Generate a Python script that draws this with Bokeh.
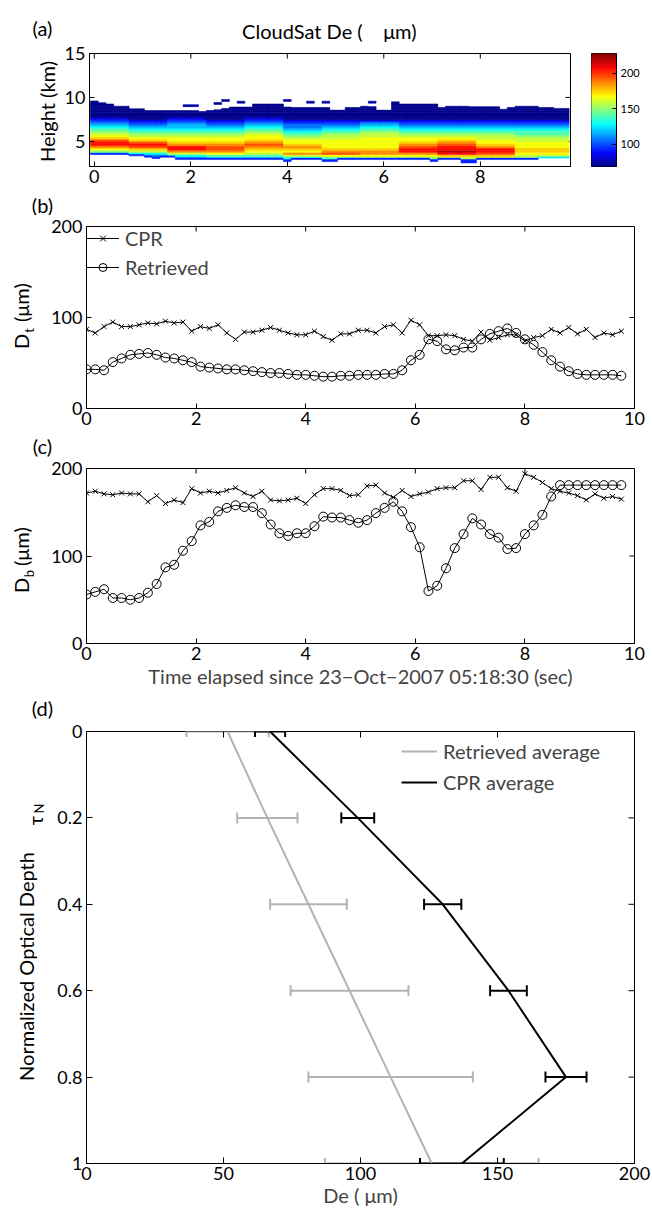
import math
from bokeh.plotting import figure
from bokeh.layouts import column, row
from bokeh.models import (ColumnDataSource, Range1d, FixedTicker, Label,
                          Legend, LegendItem, Whisker, TeeHead,
                          LinearColorMapper)
from bokeh.transform import transform
from bokeh.embed import file_html
from bokeh.resources import INLINE

FONT = "Lato"
TICK_FS = "18px"
TEXT_FS = "20px"

# ---------------------------------------------------------------- data
time_s = [0.0, 0.16, 0.32, 0.48, 0.64, 0.8, 0.96, 1.12, 1.28, 1.44,
          1.6, 1.76, 1.92, 2.08, 2.24, 2.4, 2.56, 2.72, 2.88, 3.04,
          3.2, 3.36, 3.52, 3.68, 3.84, 4.0, 4.16, 4.32, 4.48, 4.64,
          4.8, 4.96, 5.12, 5.28, 5.44, 5.6, 5.76, 5.92, 6.08, 6.24,
          6.4, 6.56, 6.72, 6.88, 7.04, 7.2, 7.36, 7.52, 7.68, 7.84,
          8.0, 8.16, 8.32, 8.48, 8.64, 8.8, 8.96, 9.12, 9.28, 9.44,
          9.6, 9.76]

# (b) cloud-top effective diameter
cpr_top_de = [87, 83, 90, 95, 90, 90, 92, 94, 93, 96,
              94, 95, 85, 90, 88, 92, 83, 76, 84, 84,
              86, 89, 86, 83, 81, 81, 85, 79, 75, 82,
              82, 86, 86, 83, 90, 92, 83, 97, 92, 80,
              80, 81, 80, 76, 74, 84, 75, 78, 81, 81,
              74, 78, 80, 87, 83, 89, 82, 87, 78, 83,
              81, 85]
ret_top_de = [43, 43, 42, 51, 55, 59, 60, 61, 59, 56,
              55, 53, 51, 46, 45, 44, 43, 43, 42, 41,
              40, 39, 39, 38, 37, 37, 36, 35, 35, 36,
              36, 37, 37, 37, 38, 38, 42, 53, 59, 76,
              74, 65, 64, 67, 67, 76, 82, 85, 88, 83,
              76, 70, 62, 53, 46, 41, 38, 37, 37, 37,
              37, 36]

# (c) cloud-base effective diameter
cpr_base_de = [172, 174, 171, 170, 172, 171, 171, 162, 169, 160,
               164, 161, 177, 172, 174, 172, 175, 178, 172, 168,
               174, 164, 163, 164, 166, 160, 170, 177, 177, 175,
               169, 170, 180, 181, 172, 167, 175, 168, 171, 173,
               177, 178, 178, 186, 186, 176, 190, 190, 178, 174,
               194, 190, 184, 177, 174, 172, 169, 164, 171, 166,
               168, 165]
ret_base_de = [56, 59, 62, 52, 52, 50, 52, 58, 68, 87,
               90, 106, 117, 135, 139, 151, 155, 158, 156, 156,
               149, 136, 126, 123, 126, 126, 134, 145, 144, 144,
               141, 138, 141, 149, 155, 162, 151, 133, 110, 60,
               66, 86, 109, 125, 143, 136, 125, 121, 108, 109,
               125, 135, 147, 168, 181, 181, 181, 181, 181, 181,
               181, 181]

# (d) profiles vs normalized optical depth
tau_n = [0.0, 0.2, 0.4, 0.6, 0.8, 1.0]
ret_avg = [51.5, 66, 81, 96, 111, 126]
ret_sd = [15, 11, 14, 21.5, 30, 39]
cpr_avg = [67, 99, 130, 154, 175, 137]
cpr_sd = [5.5, 6, 6.8, 6.7, 7.5, 15.3]

# (a) CloudSat De curtain
cloud_top_km = [9.6, 9.4, 9.25, 9.0, 9.0, 8.7, 8.7, 8.5, 8.5, 8.5,
                8.5, 8.5, 8.5, 8.5, 8.4, 8.5, 8.6, 8.75, 8.9, 8.9,
                8.9, 9.25, 9.25, 9.25, 9.25, 8.9, 8.85, 8.85, 8.85, 8.85,
                8.85, 8.55, 8.55, 8.85, 8.85, 9.0, 8.95, 8.55, 8.55, 9.5,
                9.25, 9.25, 9.25, 9.25, 9.25, 8.85, 9.0, 9.0, 9.0, 8.95,
                8.95, 8.95, 8.95, 8.65, 8.85, 9.0, 9.0, 9.0, 8.85, 8.85,
                8.75, 8.75]
cloud_base_km = [3.5, 3.5, 3.5, 3.5, 3.5, 3.35, 3.35, 3.2, 3.05, 3.2,
                 3.2, 2.95, 2.95, 2.95, 2.95, 2.95, 2.95, 2.95, 2.95, 2.95,
                 2.95, 2.95, 2.95, 2.95, 2.95, 2.7, 2.95, 2.95, 2.95, 2.95,
                 2.7, 2.7, 2.95, 2.95, 2.95, 2.95, 2.95, 2.95, 2.95, 2.95,
                 2.95, 2.95, 2.95, 2.95, 2.7, 2.95, 2.95, 2.95, 2.55, 2.55,
                 2.95, 2.95, 2.95, 2.95, 2.95, 2.95, 2.95, 2.95, 3.1, 3.1,
                 3.1, 3.1]
base_line_de = [95] * 58 + [125] * 4
# De level codes used in the profile strings
level_codes = "ABCDEFGHIJKLMNO"
level_de = [71, 84, 96, 108, 119, 130, 140, 150, 159, 167, 176, 186, 196, 206, 219]
# profile groups: first profile index of each group, one string per group,
# one character per 0.25 km layer starting at 2.5 km
group_start = [0, 5, 10, 15, 20, 25, 30, 35, 40, 45, 50, 55]
group_profile = [
    ".CDDEHJLNNMKJIHGFEDCB" + "A" * 9,
    ".CDDFIKMNMKJIHGFEDCB" + "A" * 10,
    ".CDFILNNLKJJIHGFEEDCB" + "A" * 9,
    ".CEGJLMMLKJJIHGFEDCB" + "A" * 10,
    ".CEGIJKLMLKJJIHGFEDCB" + "A" * 9,
    ".CFILJKLKJJIHGFEDDCB" + "A" * 10,
    ".CGJMLKJJJJIIHGFEDCB" + "A" * 10,
    ".CHJLLKJJJJJIIHGFEDB" + "A" * 10,
    ".CHJLNNMLKJJIHGFEDCB" + "A" * 10,
    ".CIKNONNMLKJIHGFEDCB" + "A" * 10,
    ".CIKMNNLKJJIIHGFEDCB" + "A" * 10,
    ".CHIJKKJJJIIHGGFEDCB" + "A" * 10,
]
stray_col = [12, 13, 16, 17, 19, 25, 28, 30, 36]
stray_km = [8.95, 8.95, 9.2, 9.55, 9.35, 9.55, 9.35, 9.35, 9.35]
stray_de = [74, 74, 74, 74, 74, 74, 74, 74, 74]

clim = (69, 228)


# ---------------------------------------------------------------- helpers
def jet_hex(t):
    def c(v):
        return int(round(255 * min(max(v, 0.0), 1.0)))
    return "#%02x%02x%02x" % (c(1.5 - abs(4 * t - 3)),
                              c(1.5 - abs(4 * t - 2)),
                              c(1.5 - abs(4 * t - 1)))


jet = [jet_hex(k / 255.0) for k in range(256)]
mapper = LinearColorMapper(palette=jet, low=clim[0], high=clim[1])


def base_fig(width, height, xr, yr, left, right, top, bottom, yloc="left"):
    p = figure(width=width, height=height,
               x_range=Range1d(*xr), y_range=Range1d(*yr),
               output_backend="svg", toolbar_location=None,
               min_border_left=left, min_border_right=right,
               min_border_top=top, min_border_bottom=bottom,
               y_axis_location=yloc)
    p.grid.visible = False
    p.outline_line_color = "black"
    p.outline_line_width = 1
    p.background_fill_color = "white"
    p.border_fill_color = "white"
    return p


def style_axis(ax, ticks, tick_len=5, size=TICK_FS, overrides=None, standoff=4):
    ax.ticker = FixedTicker(ticks=ticks)
    ax.major_tick_in = tick_len
    ax.major_tick_out = 0
    ax.minor_tick_line_color = None
    ax.axis_line_color = "black"
    ax.major_tick_line_color = "black"
    ax.major_label_text_font = FONT
    ax.major_label_text_color = "black"
    ax.major_label_text_font_size = size
    ax.major_label_standoff = standoff
    if overrides:
        ax.major_label_overrides = overrides


def mirror_ticks(p, xr, yr, fw, fh, xticks, yticks, L, yside="right"):
    """inward tick marks on the opposite frame edges"""
    dx = L / fw * (xr[1] - xr[0])
    dy = L / fh * (yr[1] - yr[0])
    if xticks:
        p.segment(x0=xticks, y0=[yr[1]] * len(xticks), x1=xticks,
                  y1=[yr[1] - dy] * len(xticks), line_color="black",
                  line_width=1)
    if yticks:
        if yside == "right":
            xe, xi = xr[1], xr[1] - dx
        else:
            xe, xi = xr[0], xr[0] + dx
        p.segment(x0=[xe] * len(yticks), y0=yticks, x1=[xi] * len(yticks),
                  y1=yticks, line_color="black", line_width=1)


def strip(width, height, page_top, page_bottom, top=0, bottom=0):
    """text-only figure; its frame maps page pixels (page_top..page_bottom)"""
    s = figure(width=width, height=height, x_range=Range1d(0, width),
               y_range=Range1d(page_bottom, page_top), output_backend="svg",
               toolbar_location=None, x_axis_type=None, y_axis_type=None,
               min_border=0, min_border_left=0, min_border_right=0,
               min_border_top=top, min_border_bottom=bottom)
    s.grid.visible = False
    s.outline_line_color = None
    s.background_fill_color = "white"
    s.border_fill_color = "white"
    return s


def txt(s, x, y, text, size=TEXT_FS, angle=0.0):
    s.add_layout(Label(x=x, y=y, text=text, text_font=FONT,
                       text_font_size=size, angle=angle, text_align="center",
                       text_baseline="middle", text_color="black"))


ROT = math.pi / 2
NBSP = "\u00a0"

# ---------------------------------------------------------------- title strip
ta = strip(652, 42, 0, 42)
txt(ta, 42, 27, "(a)")
txt(ta, 329, 30, "CloudSat De (" + NBSP * 4 + "\u03bcm)")

# ---------------------------------------------------------------- (a)
A_XR, A_YR = (-0.1, 9.87), (2.14, 15)
pa = base_fig(522, 150, A_XR, A_YR, 29, 12, 11, 26)
style_axis(pa.xaxis[0], [0, 2, 4, 6, 8], standoff=3)
style_axis(pa.yaxis[0], [5, 10, 15])
mirror_ticks(pa, A_XR, A_YR, 481, 113, [0, 2, 4, 6, 8], [5, 10, 15], 5)

cells = dict(l=[], r=[], b=[], t=[], de=[])
HALF, ROW0, DZ, EDGE = 0.08, 2.5, 0.25, 0.22


def add_cell(x, b, t, de):
    cells["l"].append(x - HALF)
    cells["r"].append(x + HALF)
    cells["b"].append(b)
    cells["t"].append(t)
    cells["de"].append(de)


for i, x in enumerate(time_s):
    g = max(k for k, s0 in enumerate(group_start) if s0 <= i)
    prof = group_profile[g]
    lo, hi = cloud_base_km[i], cloud_top_km[i]
    add_cell(x, lo, lo + EDGE, base_line_de[i])
    start = lo + EDGE
    for r, code in enumerate(prof):
        rb = ROW0 + r * DZ
        cb, ct = max(rb, start), min(rb + DZ, hi)
        if code == "." or ct - cb <= 1e-6:
            continue
        add_cell(x, cb, ct, level_de[level_codes.index(code)])
for c, h, d in zip(stray_col, stray_km, stray_de):
    add_cell(time_s[c], h, h + EDGE, d)

src_a = ColumnDataSource(cells)
pa.quad(left="l", right="r", bottom="b", top="t", source=src_a,
        fill_color=transform("de", mapper), line_color=transform("de", mapper),
        line_width=0.6)

la = strip(60, 150, 53, 166, top=11, bottom=26)
txt(la, 46, 111, "Height (km)", angle=ROT)

# colour bar
pcb = base_fig(70, 150, (0, 1), clim, 9, 36, 11, 26, yloc="right")
pcb.xaxis.visible = False
style_axis(pcb.yaxis[0], [100, 150, 200], tick_len=4, size="11px")
mirror_ticks(pcb, (0, 1), clim, 25, 113, None, [100, 150, 200], 4,
             yside="left")
cb_lo = list(range(clim[0], clim[1]))
src_cb = ColumnDataSource(dict(b=cb_lo, t=[v + 1 for v in cb_lo],
                               v=[v + 0.5 for v in cb_lo]))
pcb.quad(left=0, right=1, bottom="b", top="t", source=src_cb,
         fill_color=transform("v", mapper), line_color=transform("v", mapper),
         line_width=0.6)

tb = strip(652, 23, 192, 215)
txt(tb, 42, 204, "(b)")

# ---------------------------------------------------------------- (b)
B_XR, B_YR = (0, 10), (0, 200)
pb = base_fig(612, 218, B_XR, B_YR, 46, 18, 11, 25)
style_axis(pb.xaxis[0], [0, 2, 4, 6, 8, 10], standoff=3)
style_axis(pb.yaxis[0], [0, 100, 200])
mirror_ticks(pb, B_XR, B_YR, 548, 182, [0, 2, 4, 6, 8, 10], [0, 100, 200], 5)
lb1 = pb.line(time_s, cpr_top_de, line_color="black", line_width=1)
sb1 = pb.scatter(time_s, cpr_top_de, marker="x", size=7, line_color="black",
                 line_width=1)
lb2 = pb.line(time_s, ret_top_de, line_color="black", line_width=1)
sb2 = pb.scatter(time_s, ret_top_de, marker="circle", size=9, fill_color=None,
                 line_color="black", line_width=1)
leg_b = Legend(items=[LegendItem(label="CPR", renderers=[lb1, sb1]),
                      LegendItem(label="Retrieved", renderers=[lb2, sb2])],
               location="top_left", margin=0, padding=14, spacing=5,
               label_height=20, glyph_height=20, glyph_width=33,
               label_standoff=6, border_line_color=None,
               background_fill_alpha=0, label_text_font=FONT,
               label_text_font_size=TEXT_FS)
pb.add_layout(leg_b)

lb = strip(40, 218, 226, 408, top=11, bottom=25)
txt(lb, 20, 341, "D", angle=ROT)
txt(lb, 28, 330, "t", size="13px", angle=ROT)
txt(lb, 20, 302, "(\u03bcm)", angle=ROT)

tc = strip(652, 24, 433, 457)
txt(tc, 42, 445, "(c)")

# ---------------------------------------------------------------- (c)
C_XR, C_YR = (0, 10), (0, 200)
pc = base_fig(612, 238, C_XR, C_YR, 46, 18, 11, 52)
style_axis(pc.xaxis[0], [0, 2, 4, 6, 8, 10], standoff=3)
style_axis(pc.yaxis[0], [0, 100, 200])
mirror_ticks(pc, C_XR, C_YR, 548, 175, [0, 2, 4, 6, 8, 10], [0, 100, 200], 5)
pc.xaxis[0].axis_label = "Time elapsed since 23\u2212Oct\u22122007 05:18:30 (sec)"
pc.xaxis[0].axis_label_text_font = FONT
pc.xaxis[0].axis_label_text_font_size = TEXT_FS
pc.xaxis[0].axis_label_text_font_style = "normal"
pc.xaxis[0].axis_label_standoff = 1
pc.line(time_s, cpr_base_de, line_color="black", line_width=1)
pc.scatter(time_s, cpr_base_de, marker="x", size=7, line_color="black",
           line_width=1)
pc.line(time_s, ret_base_de, line_color="black", line_width=1)
pc.scatter(time_s, ret_base_de, marker="circle", size=9, fill_color=None,
           line_color="black", line_width=1)

lc = strip(40, 238, 468, 643, top=11, bottom=52)
txt(lc, 20, 585, "D", angle=ROT)
txt(lc, 28, 573, "b", size="13px", angle=ROT)
txt(lc, 20, 546, "(\u03bcm)", angle=ROT)

td = strip(652, 25, 695, 720)
txt(td, 42, 707, "(d)")

# ---------------------------------------------------------------- (d)
D_XR, D_YR = (0, 200), (1, 0)
pd_ = base_fig(607, 494, D_XR, D_YR, 41, 18, 11, 51)
style_axis(pd_.xaxis[0], [0, 50, 100, 150, 200], tick_len=6, standoff=3)
style_axis(pd_.yaxis[0], tau_n, tick_len=6,
           overrides={0: "0", 0.2: "0.2", 0.4: "0.4", 0.6: "0.6",
                      0.8: "0.8", 1: "1"})
mirror_ticks(pd_, D_XR, D_YR, 548, 432, [0, 50, 100, 150, 200], tau_n, 6)
pd_.xaxis[0].axis_label = "De ( \u03bcm)"
pd_.xaxis[0].axis_label_text_font = FONT
pd_.xaxis[0].axis_label_text_font_size = TEXT_FS
pd_.xaxis[0].axis_label_text_font_style = "normal"
pd_.xaxis[0].axis_label_standoff = 0

GRAY = "#b3b3b3"
src_r = ColumnDataSource(dict(tau=tau_n, m=ret_avg,
                              lo=[m - s for m, s in zip(ret_avg, ret_sd)],
                              hi=[m + s for m, s in zip(ret_avg, ret_sd)]))
src_c = ColumnDataSource(dict(tau=tau_n, m=cpr_avg,
                              lo=[m - s for m, s in zip(cpr_avg, cpr_sd)],
                              hi=[m + s for m, s in zip(cpr_avg, cpr_sd)]))
for src, col in ((src_r, GRAY), (src_c, "black")):
    w = Whisker(source=src, base="tau", lower="lo", upper="hi",
                dimension="width", line_color=col, line_width=2,
                upper_head=TeeHead(size=11, line_color=col, line_width=2),
                lower_head=TeeHead(size=11, line_color=col, line_width=2))
    pd_.add_layout(w)
ld1 = pd_.line("m", "tau", source=src_r, line_color=GRAY, line_width=2)
ld2 = pd_.line("m", "tau", source=src_c, line_color="black", line_width=2)
leg_d = Legend(items=[LegendItem(label="Retrieved average", renderers=[ld1]),
                      LegendItem(label="CPR average", renderers=[ld2])],
               location=(315, 369), margin=0, padding=4, spacing=7,
               label_height=20, glyph_height=20, glyph_width=36,
               label_standoff=6, border_line_color=None,
               background_fill_alpha=0, label_text_font=FONT,
               label_text_font_size=TEXT_FS)
pd_.add_layout(leg_d)

ld = strip(45, 494, 731, 1163, top=11, bottom=51)
txt(ld, 25, 966, "Normalized Optical Depth", angle=ROT)
txt(ld, 34, 820, "\u03c4", angle=ROT)
txt(ld, 38, 808, "N", size="13px", angle=ROT)

layout = column(ta,
                row(la, pa, pcb, spacing=0),
                tb,
                row(lb, pb, spacing=0),
                tc,
                row(lc, pc, spacing=0),
                td,
                row(ld, pd_, spacing=0),
                spacing=0)
open("out.html", "w").write(file_html(layout, INLINE))
